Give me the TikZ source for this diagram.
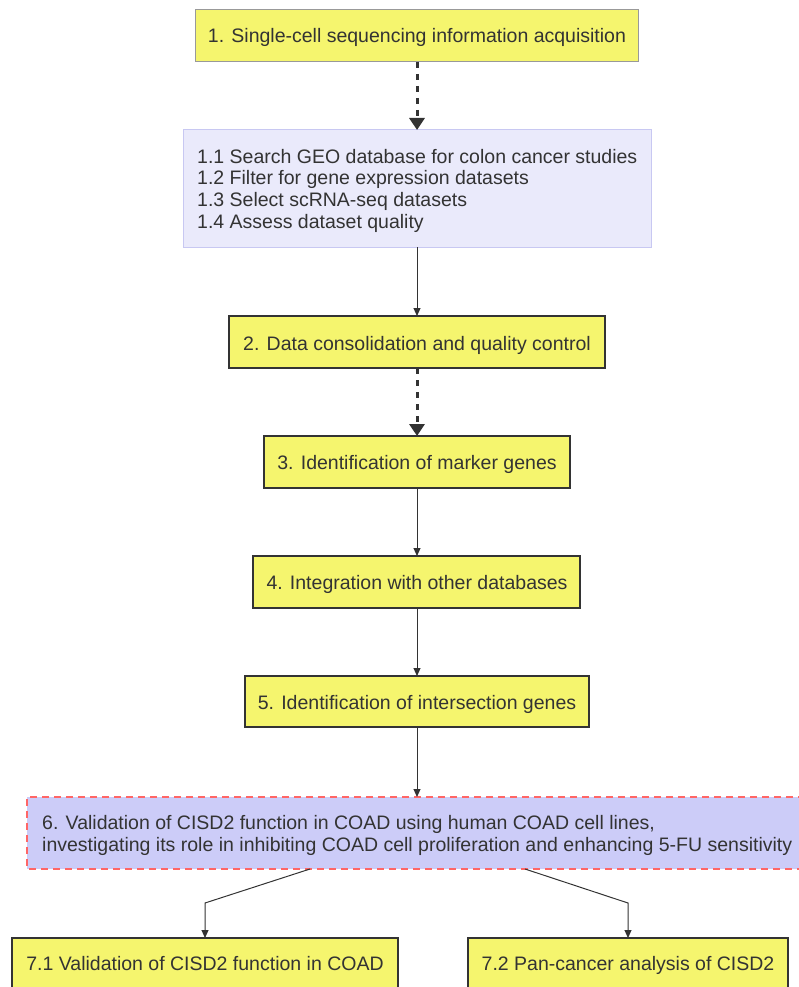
\documentclass[tikz,border=0pt]{standalone}
\usepackage{fontspec}
\setmainfont{Liberation Sans}
\usetikzlibrary{arrows.meta}
\definecolor{yel}{HTML}{F5F56E}
\definecolor{lav}{HTML}{EAEAFB}
\definecolor{lavb}{HTML}{C8C8F2}
\definecolor{six}{HTML}{CCCCF8}
\definecolor{redd}{HTML}{FF6666}
\definecolor{dk}{HTML}{333333}
\tikzset{
  x=1pt, y=-1pt,
  every node/.style={font=\fontsize{19.5}{21.7}\selectfont, text=dk, inner sep=0pt},
  thinbox/.style={draw=gray!80, line width=1pt, fill=yel},
  thickbox/.style={draw=dk, line width=2.2pt, fill=yel},
  solidarr/.style={draw=dk, line width=1pt, -{Triangle[length=8pt,width=7pt]}},
  dasharr/.style={draw=dk, line width=3pt, dash pattern=on 6pt off 6pt, -{Triangle[length=12pt,width=15pt]}},
}
\begin{document}
\begin{tikzpicture}
\useasboundingbox (0,0) rectangle (799,987);
\path[thinbox] (195,10) rectangle (638,62);
\node[anchor=base] (n1) at (417,43) {1. Single-cell sequencing information acquisition};
\path[draw=lavb, line width=1pt, fill=lav] (183,130) rectangle (651,247);
\node[anchor=north west, align=left] (n1x) at (197,148.7) {1.1 Search GEO database for colon cancer studies\\1.2 Filter for gene expression datasets\\1.3 Select scRNA-seq datasets\\1.4 Assess dataset quality};
\coordinate (b1) at (417,62);
\coordinate (t1x) at (417,130);
\coordinate (b1x) at (417,247);
\path[thickbox] (229,316) rectangle (605,368);
\node[anchor=base] (n2) at (417,350) {2. Data consolidation and quality control};
\coordinate (t2) at (417,316);
\coordinate (b2) at (417,368);
\path[thickbox] (264,436) rectangle (570,488);
\node[anchor=base] (n3) at (417,469) {3. Identification of marker genes};
\coordinate (t3) at (417,436);
\coordinate (b3) at (417,488);
\path[thickbox] (253,556) rectangle (580,608);
\node[anchor=base] (n4) at (417,589) {4. Integration with other databases};
\coordinate (t4) at (417,556);
\coordinate (b4) at (417,608);
\path[thickbox] (245,676) rectangle (589,727);
\node[anchor=base] (n5) at (417,709) {5. Identification of intersection genes};
\coordinate (t5) at (417,676);
\coordinate (b5) at (417,727);
\path[fill=six] (27,797) rectangle (805,869);
\draw[redd, line width=2.4pt, dash pattern=on 7pt off 5pt] (805,797) -- (27,797) -- (27,869) -- (805,869);
\node[anchor=north west, align=left, font=\fontsize{19.5}{21.5}\selectfont] (n6) at (42,815.5) {6. Validation of CISD2 function in COAD using human COAD cell lines,\\investigating its role in inhibiting COAD cell proliferation and enhancing 5-FU sensitivity};
\coordinate (t6) at (417,797);
\coordinate (b6l) at (310,869);
\coordinate (b6r) at (525,869);
\coordinate (m7a) at (205,903);
\coordinate (m7b) at (628,903);
\path[thickbox] (12,938) rectangle (398,995);
\node[anchor=base] (n71) at (205,970) {7.1 Validation of CISD2 function in COAD};
\path[thickbox] (468,938) rectangle (788,995);
\node[anchor=base] (n72) at (628,970) {7.2 Pan-cancer analysis of CISD2};
\coordinate (t71) at (205,938);
\coordinate (t72) at (628,938);
\draw[dasharr] (b1) -- (t1x);
\draw[solidarr] (b1x) -- (t2);
\draw[dasharr] (b2) -- (t3);
\draw[solidarr] (b3) -- (t4);
\draw[solidarr] (b4) -- (t5);
\draw[solidarr] (b5) -- (t6);
\draw[solidarr] (b6l) -- (m7a) -- (t71);
\draw[solidarr] (b6r) -- (m7b) -- (t72);
\end{tikzpicture}
\end{document}
